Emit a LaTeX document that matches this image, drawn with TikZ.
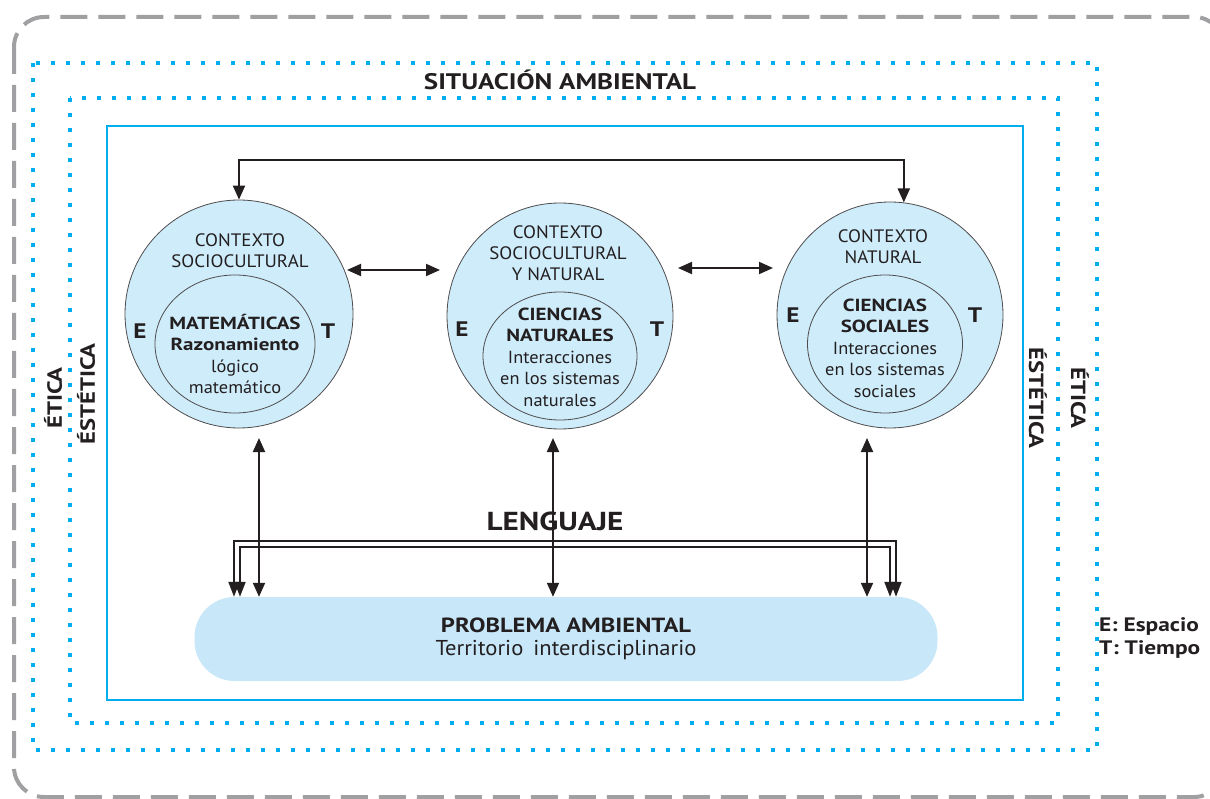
\documentclass[tikz,border=0pt]{standalone}
\usepackage{fontspec}
\setmainfont{PT Sans}[UprightFeatures={FakeStretch=1.05}, BoldFeatures={FakeStretch=1.2}]
\usetikzlibrary{arrows.meta,shapes.geometric}
\definecolor{cyanline}{RGB}{0,174,239}
\definecolor{bubble}{RGB}{206,236,250}
\definecolor{boxfill}{RGB}{200,232,250}
\definecolor{grayline}{RGB}{160,160,162}
\definecolor{ink}{RGB}{35,31,32}
\newcommand{\fsz}[2]{\fontsize{#1}{#2}\selectfont}
\begin{document}
\begin{tikzpicture}[x=1pt,y=-1pt,
  every node/.style={text=ink, inner sep=0pt},
  frame/.style={cyanline, line width=4.5pt, dash pattern=on 4pt off 11pt},
  outerframe/.style={grayline, line width=4pt, dash pattern=on 27pt off 11pt, rounded corners=30pt},
  ctxcircle/.style={circle, draw=ink!80, line width=0.8pt, fill=bubble, minimum size=#1},
  inner/.style={ellipse, draw=ink!80, line width=0.8pt},
  ctxtext/.style={align=center, font=\fsz{18}{21}},
  disc/.style={align=center, font=\fsz{17.5}{21.5}},
  axis/.style={font=\bfseries\fsz{21}{21}},
  side/.style={font=\bfseries\fsz{20.5}{20.5}},
  link/.style={draw=ink, line width=2pt},
  both/.style={link, {Triangle[length=14pt,width=12pt]}-{Triangle[length=14pt,width=12pt]}},
  down/.style={link, -{Triangle[length=15pt,width=11pt]}},
  pbox/.style={fill=boxfill, rounded corners=40pt, minimum width=743pt, minimum height=84pt, align=center}
]
\useasboundingbox (0,0) rectangle (1210,799);
\begin{scope}
\clip (0,0) rectangle (1210,799);
\draw[outerframe] (14,17) rectangle (1224,797);
\end{scope}

% nested frames
\draw[frame] (33,63) rectangle (1097,750);
\draw[frame] (70,98) rectangle (1058,723);
\draw[cyanline, line width=2.8pt] (107,126) rectangle (1023,700);

\node[font=\bfseries\fsz{22.5}{22.5}] (sit) at (560,80) {SITUACIÓN AMBIENTAL};

% side labels
\node[side, rotate=90] (etl) at (53,398) {ÉTICA};
\node[side, rotate=90] (esl) at (86,394) {ÉSTÉTICA};
\node[side, rotate=-90] (esr) at (1038,398) {ÉSTÉTICA};
\node[side, rotate=-90] (etr) at (1080,398) {ÉTICA};

% context circles
\node[ctxcircle=228pt] (c1) at (239,314) {};
\node[ctxcircle=226pt] (c2) at (560,316) {};
\node[ctxcircle=226pt] (c3) at (890,315) {};

\node[inner, minimum width=160pt, minimum height=138pt] (i1) at (235,344) {};
\node[inner, minimum width=154pt, minimum height=128pt] (i2) at (560,356) {};
\node[inner, minimum width=155pt, minimum height=138pt] (i3) at (885,344) {};

\node[ctxtext] (t1) at (240,251) {CONTEXTO\\SOCIOCULTURAL};
\node[ctxtext] (t2) at (558,253) {CONTEXTO\\SOCIOCULTURAL\\Y NATURAL};
\node[ctxtext] (t3) at (883,247) {CONTEXTO\\NATURAL};

\node[disc] (d1) at (235,354) {\textbf{MATEMÁTICAS}\\\textbf{Razonamiento}\\lógico\\matemático};
\node[disc] (d2) at (560,357) {\textbf{CIENCIAS}\\\textbf{NATURALES}\\Interacciones\\en los sistemas\\naturales};
\node[disc] (d3) at (885,348) {\textbf{CIENCIAS}\\\textbf{SOCIALES}\\Interacciones\\en los sistemas\\sociales};

\node[axis] (e1) at (140,331) {E};
\node[axis] (tt1) at (328,331) {T};
\node[axis] (e2) at (462,329) {E};
\node[axis] (tt2) at (657,329) {T};
\node[axis] (e3) at (793,315) {E};
\node[axis] (tt3) at (975,315) {T};

% problem box
\node[pbox] (pb) at (566,639) {\textbf{\fsz{20.5}{20.5}PROBLEMA AMBIENTAL}\\[6pt]{\fsz{21.5}{21.5}Territorio\hspace{10pt}interdisciplinario}};

\node[font=\bfseries\fsz{26}{26}] (len) at (555,521) {LENGUAJE};

\node[font=\bfseries\fsz{19.5}{23}, anchor=west, align=left] (key) at (1099,638) {E: Espacio\\T: Tiempo};

% connectors between circles
\draw[both] (c1.north) -- ++(0,-40) -| (c3.83);
\coordinate (h1a) at (347,270);
\coordinate (h1b) at (440,270);
\coordinate (h2a) at (678,268);
\coordinate (h2b) at (773,268);
\draw[both] (h1a) -- (h1b);
\draw[both] (h2a) -- (h2b);

% links down to the problem box
\coordinate (v1) at (259,438);
\coordinate (v2) at (553,438);
\coordinate (v3) at (867,438);
\draw[both] (v1) -- (v1 |- pb.north);
\draw[both] (v2) -- (v2 |- pb.north);
\draw[both] (v3) -- (v3 |- pb.north);

% language channel
\draw[down] (234,541) -- (234,541 |- pb.north);
\draw[down] (240,547) -- (240,547 |- pb.north);
\draw[down] (896,541) -- (896,541 |- pb.north);
\draw[down] (890,547) -- (890,547 |- pb.north);
\draw[link] (233,541) -- (897,541);
\draw[link] (239,547) -- (891,547);
\end{tikzpicture}
\end{document}
